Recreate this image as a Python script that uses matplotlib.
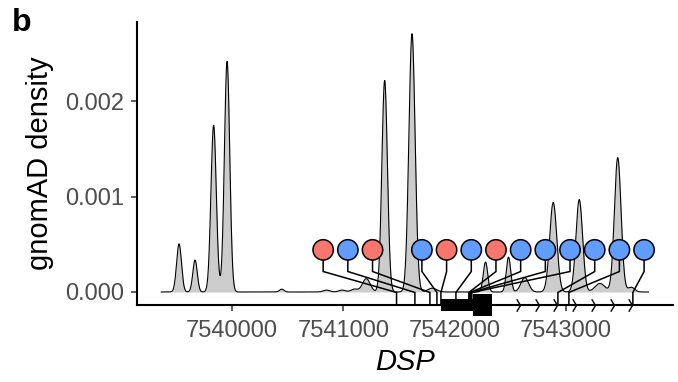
import numpy as np
import matplotlib.pyplot as plt
from matplotlib.path import Path

plt.rcParams['font.family'] = ['Liberation Sans', 'DejaVu Sans']

# gnomAD variant density, read as peaks (position, height, width)
peak_pos = [7539523, 7539667, 7539834, 7539955, 7540447, 7540850, 7540990, 7541100,
            7541207, 7541372, 7541618, 7541800, 7542279, 7542486, 7542632, 7542888,
            7543122, 7543308, 7543468, 7543590]
peak_height = [0.000505, 0.000335, 0.00175, 0.00242, 0.00003, 0.00002, 0.00002, 0.00003,
               0.000140, 0.00222, 0.00271, 0.00004, 0.000315, 0.000365, 0.00015, 0.00094,
               0.00097, 0.00009, 0.00141, 0.00005]
peak_width = [22, 20, 24, 24, 20, 30, 30, 30,
              35, 25, 28, 40, 20, 20, 35, 32,
              30, 45, 30, 30]
density_start, density_end = 7539363, 7543744

# variants (lollipops)
var_pos = [7541479, 7541644, 7541779, 7541842, 7541878, 7542013, 7542129,
           7542138, 7542147, 7542156, 7542930, 7543029, 7543604]
var_class = ['case', 'ctrl', 'case', 'ctrl', 'case', 'ctrl', 'case',
             'ctrl', 'ctrl', 'ctrl', 'ctrl', 'ctrl', 'ctrl']
label_slot = [0, 1, 2, 4, 5, 6, 7, 8, 9, 10, 11, 12, 13]

# DSP gene model
exon_start = [7541882, 7542168]
exon_end = [7542168, 7542333]
intron_start, intron_end = 7542590, 7543700

colors = {'case': '#F8766D', 'ctrl': '#619CFF'}

fig = plt.figure(figsize=(6.78, 3.82), dpi=100)
ax = fig.add_axes([137 / 678, 1 - 305 / 382, (673 - 137) / 678, (305 - 21.7) / 382])

x = np.linspace(density_start, density_end, 3000)
dens = np.zeros_like(x)
for p, h, w in zip(peak_pos, peak_height, peak_width):
    dens += h * np.exp(-0.5 * ((x - p) / w) ** 2)
ax.fill_between(x, 0, dens, color='#CCCCCC', lw=0, zorder=1)
ax.plot(x, dens, color='black', lw=0.8, zorder=2)

ymin = -0.0001364
ax.set_xlim(7539145, 7543965)
ax.set_ylim(ymin, 0.002836)

# lollipops
slot0, slot_step = 7540819, 222
yc = 0.000442
y_elbow = 0.000215
for p, c, s in zip(var_pos, var_class, label_slot):
    lx = slot0 + s * slot_step
    ax.plot([lx, lx, p, p], [yc, y_elbow, -0.000005, ymin], color='black', lw=1.1,
            zorder=3, solid_joinstyle='miter')
lx_all = [slot0 + s * slot_step for s in label_slot]
ax.scatter(lx_all, [yc] * len(lx_all), s=215, c=[colors[c] for c in var_class],
           edgecolors='black', linewidths=1.1, zorder=4)

# gene model: exons and intron direction arrows
px_per_y = 0.001 / 95.3
ax.bar(exon_start[0], 11 * px_per_y, width=exon_end[0] - exon_start[0], bottom=ymin - 5.5 * px_per_y,
       align='edge', color='black', zorder=5, clip_on=False)
ax.bar(exon_start[1], 21 * px_per_y, width=exon_end[1] - exon_start[1], bottom=ymin - 10.5 * px_per_y,
       align='edge', color='black', zorder=5, clip_on=False)
chevron = Path([(-0.6, 1), (0, 0), (-0.6, -1)], [Path.MOVETO, Path.LINETO, Path.LINETO])
arrows = np.arange(intron_start, intron_end, 168)
ax.plot(arrows, [ymin] * len(arrows), ls='none', marker=chevron, ms=9, mfc='none',
        mec='black', mew=1.0, zorder=5, clip_on=False)

for side in ['top', 'right']:
    ax.spines[side].set_visible(False)
for side in ['left', 'bottom']:
    ax.spines[side].set_linewidth(1.5)
    ax.spines[side].set_color('black')

ax.set_xticks([7540000, 7541000, 7542000, 7543000])
ax.set_xticklabels(['7540000', '7541000', '7542000', '7543000'])
ax.set_yticks([0, 0.001, 0.002])
ax.set_yticklabels(['0.000', '0.001', '0.002'])
ax.tick_params(axis='both', labelsize=17, labelcolor='#4D4D4D', color='#333333',
               length=4, width=1.1)
ax.tick_params(axis='x', pad=7)
ax.tick_params(axis='y', pad=5)

ax.set_xlabel('DSP', fontsize=21, style='italic', labelpad=4)
ax.set_ylabel('gnomAD density', fontsize=21, labelpad=8)

fig.text(12 / 678, 1 - 8 / 382, 'b', fontsize=23, fontweight='bold', ha='left', va='top')

fig.savefig('out.png', dpi=100)
